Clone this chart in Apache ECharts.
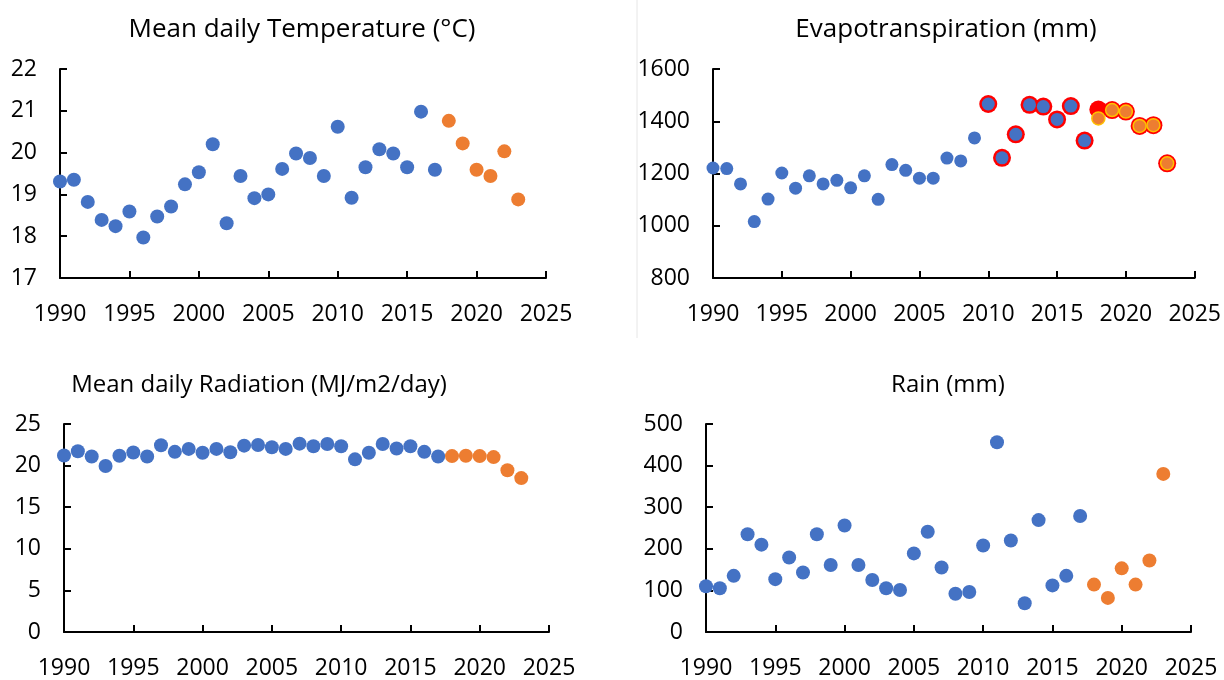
<!DOCTYPE html>
<html>
<head>
<meta charset="utf-8">
<script src="https://cdn.jsdelivr.net/npm/echarts@6/dist/echarts.min.js"></script>
<style>
  html, body { margin: 0; padding: 0; background: #fff; }
  #chart { width: 1224px; height: 680px; }
</style>
</head>
<body>
<div id="chart"></div>
<script>
// years
const histYears = [1990, 1991, 1992, 1993, 1994, 1995, 1996, 1997, 1998, 1999,
  2000, 2001, 2002, 2003, 2004, 2005, 2006, 2007, 2008, 2009,
  2010, 2011, 2012, 2013, 2014, 2015, 2016, 2017];
const recentYears = [2018, 2019, 2020, 2021, 2022, 2023];

// Mean daily temperature (°C)
const tempHist = [19.31, 19.35, 18.82, 18.39, 18.24, 18.59, 17.97, 18.47, 18.71, 19.24,
  19.53, 20.20, 18.31, 19.44, 18.91, 19.00, 19.61, 19.98, 19.87, 19.44,
  20.62, 18.92, 19.65, 20.08, 19.98, 19.65, 20.98, 19.59];
const tempRecent = [20.76, 20.22, 19.59, 19.44, 20.03, 18.88];

// Evapotranspiration (mm)
const etHist = [1221, 1219, 1160, 1016, 1102, 1202, 1144, 1191, 1160, 1174,
  1145, 1191, 1101, 1234, 1212, 1182, 1182, 1259, 1248, 1336,
  1466, 1260, 1350, 1463, 1456, 1407, 1458, 1326];
const etRecent = [1411, 1443, 1437, 1382, 1385, 1239];
// highlighted (red ring) years
const etHighYears = [2010, 2011, 2012, 2013, 2014, 2015, 2016, 2017, 2018, 2019, 2020, 2021, 2022, 2023];
const etHigh = [1466, 1260, 1350, 1463, 1456, 1407, 1458, 1326, 1445, 1443, 1437, 1382, 1385, 1239];

// Mean daily radiation (MJ/m2/day)
const radHist = [21.22, 21.73, 21.10, 19.96, 21.18, 21.57, 21.10, 22.44, 21.65, 22.01,
  21.54, 22.01, 21.61, 22.40, 22.48, 22.20, 22.01, 22.64, 22.32, 22.60,
  22.32, 20.75, 21.54, 22.60, 22.05, 22.32, 21.65, 21.10];
const radRecent = [21.14, 21.18, 21.14, 21.02, 19.45, 18.50];

// Rain (mm)
const rainHist = [110, 105, 135, 235, 210, 127, 179, 143, 235, 161,
  256, 161, 125, 105, 101, 189, 241, 155, 92, 96,
  208, 456, 220, 69, 269, 112, 135, 279];
const rainRecent = [114, 82, 153, 114, 172, 380];

const titles = ['Mean daily Temperature (°C)', 'Evapotranspiration (mm)',
  'Mean daily Radiation (MJ/m2/day)', 'Rain (mm)'];

const BLUE = '#4472C4';
const ORANGE = '#ED7D31';
const RED = '#FF0000';
const GOLD = '#FFC000';
const FONT = '"Open Sans", "Noto Sans", sans-serif';

function pairs(xs, ys) {
  return xs.map((x, i) => [x, ys[i]]);
}

const grids = [
  { left: 60, top: 69, width: 486, height: 209 },
  { left: 713, top: 69, width: 484, height: 209 },
  { left: 64, top: 424, width: 485, height: 210 },
  { left: 706, top: 424, width: 485, height: 211 }
];

const yRanges = [[17, 22, 1], [800, 1600, 200], [0, 25, 5], [0, 500, 100]];

const axisLine = { show: true, lineStyle: { color: '#000', width: 2 } };
const axisTick = { show: true, inside: true, length: 7, lineStyle: { color: '#000', width: 2 } };
const plain = v => String(v);

const xAxes = grids.map((g, i) => ({
  type: 'value', gridIndex: i, min: 1990, max: 2025, interval: 5,
  axisLine, axisTick, splitLine: { show: false },
  axisLabel: { color: '#000', fontSize: 23, fontFamily: FONT, margin: 25, formatter: plain }
}));

const yAxes = yRanges.map((r, i) => ({
  type: 'value', gridIndex: i, min: r[0], max: r[1], interval: r[2],
  axisLine, axisTick, splitLine: { show: false },
  axisLabel: { color: '#000', fontSize: 23, fontFamily: FONT, margin: 23, formatter: plain }
}));

function dots(i, data, color, size, extra) {
  return Object.assign({
    type: 'scatter', xAxisIndex: i, yAxisIndex: i, data,
    symbol: 'circle', symbolSize: size, silent: true,
    itemStyle: { color, opacity: 1 }
  }, extra || {});
}

const series = [
  dots(0, pairs(histYears, tempHist), BLUE, 14),
  dots(0, pairs(recentYears, tempRecent), ORANGE, 14),

  dots(1, pairs(etHighYears, etHigh), RED, 18),
  dots(1, pairs(histYears, etHist), BLUE, 13),
  dots(1, pairs(recentYears, etRecent), ORANGE, 13, {
    itemStyle: { color: ORANGE, borderColor: GOLD, borderWidth: 1.5, opacity: 1 }
  }),

  dots(2, pairs(histYears, radHist), BLUE, 14),
  dots(2, pairs(recentYears, radRecent), ORANGE, 14),

  dots(3, pairs(histYears, rainHist), BLUE, 14),
  dots(3, pairs(recentYears, rainRecent), ORANGE, 14)
];

// title centre x, centre y, font size
const titlePos = [[297, 28, 26], [941, 28, 26], [254, 383, 24], [943, 383, 24]];

const chart = echarts.init(document.getElementById('chart'));
chart.setOption({
  animation: false,
  backgroundColor: '#fff',
  title: titles.map((t, i) => ({
    text: t, left: titlePos[i][0], top: titlePos[i][1] - titlePos[i][2] * 0.62, textAlign: 'center',
    textStyle: { fontFamily: FONT, fontSize: titlePos[i][2], fontWeight: 'normal', color: '#000' }
  })),
  grid: grids,
  xAxis: xAxes,
  yAxis: yAxes,
  series,
  graphic: [{
    type: 'line', shape: { x1: 637, y1: 0, x2: 637, y2: 338 },
    style: { stroke: '#e6e6e6', lineWidth: 1 }, silent: true
  }]
});
</script>
</body>
</html>
